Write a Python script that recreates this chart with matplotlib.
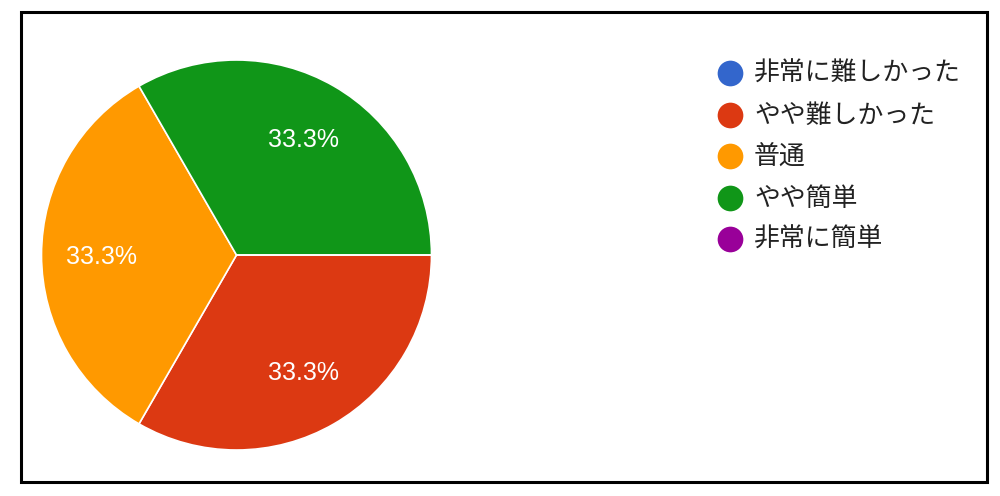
import matplotlib
matplotlib.use("Agg")
import matplotlib.pyplot as plt
from matplotlib.patches import Rectangle

# answer choices and response counts
labels = ["非常に難しかった", "やや難しかった", "普通", "やや簡単", "非常に簡単"]
counts = [0, 1, 1, 1, 0]
colors = ["#3366cc", "#dc3912", "#ff9900", "#109618", "#990099"]

W, H = 1000, 496
fig = plt.figure(figsize=(W / 100, H / 100), dpi=100)

# pie: centre (236.5, 255) px, radius 195 px
cx, cy, r = 236.5, 255, 195
ax = fig.add_axes([(cx - r) / W, (H - cy - r) / H, 2 * r / W, 2 * r / H])


def pct(p):
    return "" if p < 0.05 else f"{p:.1f}%"


wedges, _, autotexts = ax.pie(
    counts, colors=colors, startangle=0, counterclock=False,
    autopct=pct, pctdistance=0.69, radius=1.0,
    wedgeprops=dict(edgecolor="white", linewidth=1.2),
    textprops=dict(color="white", fontsize=18, family="Liberation Sans"),
)
# nudge labels down a touch to match the reference baseline
for t in autotexts:
    x, y = t.get_position()
    t.set_position((x, y - 0.01))
ax.set_xlim(-1, 1)
ax.set_ylim(-1, 1)
ax.set_aspect("equal")
ax.axis("off")

# overlay in pixel coordinates for legend and frame
ov = fig.add_axes([0, 0, 1, 1])
ov.set_xlim(0, W)
ov.set_ylim(H, 0)
ov.axis("off")

row_y = [73, 115, 156, 198, 239]
for lab, col, y in zip(labels, colors, row_y):
    ov.plot(730, y, "o", color=col, markersize=18.5, markeredgewidth=0)
    ov.text(754, y, lab, fontsize=18.6, va="center", ha="left", color="#222222",
            family=["Noto Sans CJK JP", "DejaVu Sans"])

ov.add_patch(Rectangle((20.5, 11.5), 966, 470, fill=False,
                       edgecolor="black", linewidth=2.2))

fig.savefig("out.png", dpi=100)
plt.close(fig)
